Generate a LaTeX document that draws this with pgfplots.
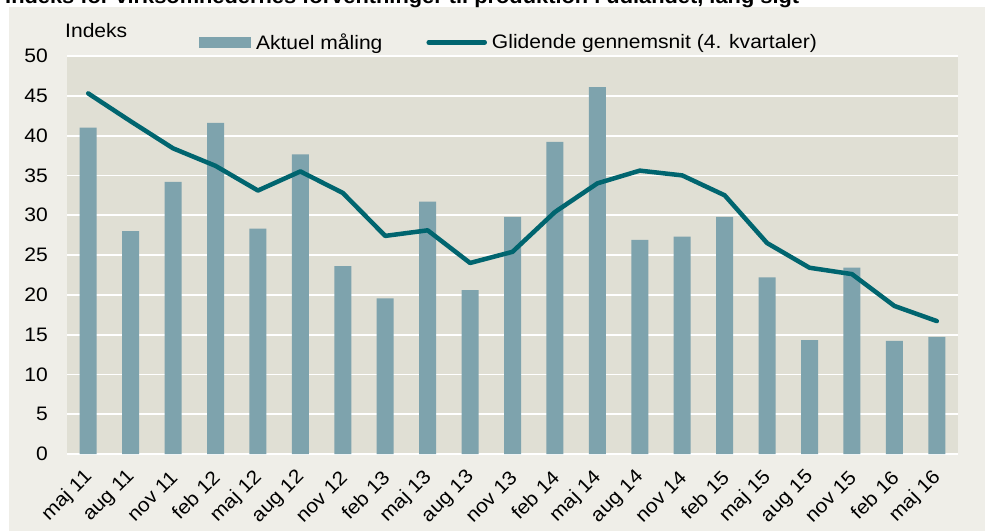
\documentclass[border=0pt]{standalone}
\usepackage{fontspec}
\setmainfont[FakeStretch=1.08]{Liberation Sans}
\usepackage{pgfplots}
\pgfplotsset{compat=1.18}
\definecolor{panelbg}{HTML}{EFEEE8}
\definecolor{plotbg}{HTML}{E0DFD4}
\definecolor{barcol}{HTML}{7EA3AD}
\definecolor{linecol}{HTML}{00656F}
\newcommand{\chartfont}{\fontsize{19.5}{22}\selectfont}
\begin{document}
\begin{tikzpicture}[x=1pt,y=1pt]
\useasboundingbox (0,0) rectangle (985,531);
\clip (0,0) rectangle (985,531);
\fill[white] (0,0) rectangle (985,531);
\fill[panelbg] (9,0) rectangle (985,524);
\node[anchor=base west, inner sep=0pt, font=\bfseries\fontsize{20.2}{24}\selectfont] at (5,527) {Indeks for virksomhedernes forventninger til produktion i udlandet, lang sigt};
\begin{axis}[
  at={(67pt,77pt)}, anchor=south west,
  scale only axis, width=891pt, height=398pt,
  xmin=-0.5, xmax=20.5, ymin=0, ymax=50,
  ytick={0,5,...,50},
  xtick={0,...,20},
  xticklabels={maj 11,aug 11,nov 11,feb 12,maj 12,aug 12,nov 12,feb 13,maj 13,aug 13,nov 13,feb 14,maj 14,aug 14,nov 14,feb 15,maj 15,aug 15,nov 15,feb 16,maj 16},
  axis line style={draw=none},
  major tick length=0pt,
  ymajorgrids, grid style={white, line width=1.8pt},
  axis background/.style={fill=plotbg},
  tick label style={font=\chartfont},
  /pgf/number format/assume math mode=true,
  xticklabel style={yshift=-20pt, xshift=1pt, rotate=45, anchor=east, inner sep=0pt},
  yticklabel style={xshift=-19pt, anchor=east, inner sep=0pt},
  legend style={at={(0.148,1.034)}, anchor=west, draw=none, fill=none, font=\chartfont,
    legend columns=2, inner sep=0pt, column sep=0pt,
    nodes={inner sep=0pt, anchor=west},
    /tikz/every even column/.append style={column sep=44pt},
    /tikz/every odd column/.append style={column sep=5pt}},
  clip=false,
]
\addplot[ybar, bar width=17pt, bar shift=0pt, fill=barcol, draw=none,
  legend image code/.code={\fill[barcol] (0pt,-5.8pt) rectangle (52pt,5.8pt);}]
coordinates {
(0,41.0) (1,28.0) (2,34.2) (3,41.6) (4,28.3) (5,37.65) (6,23.6) (7,19.55)
(8,31.7) (9,20.6) (10,29.8) (11,39.2) (12,46.1) (13,26.9) (14,27.3) (15,29.8)
(16,22.2) (17,14.3) (18,23.4) (19,14.2) (20,14.7)
};
\addlegendentry{Aktuel måling}
\addplot[sharp plot, no marks, color=linecol, line width=4.5pt, line join=round, line cap=round,
  legend image code/.code={\draw[linecol, line width=4.5pt] (0pt,0pt) -- (56pt,0pt);}]
coordinates {
(0,45.3) (1,41.8) (2,38.4) (3,36.2) (4,33.1) (5,35.5) (6,32.8) (7,27.4)
(8,28.1) (9,24.0) (10,25.4) (11,30.4) (12,34.0) (13,35.6) (14,35.0) (15,32.5)
(16,26.5) (17,23.4) (18,22.6) (19,18.6) (20,16.7)
};
\addlegendentry{Glidende gennemsnit (4. kvartaler)}
\node[anchor=base west, inner sep=0pt, font=\chartfont] at (rel axis cs:0,1) [xshift=-2pt, yshift=19pt] {Indeks};
\end{axis}
\end{tikzpicture}
\end{document}
